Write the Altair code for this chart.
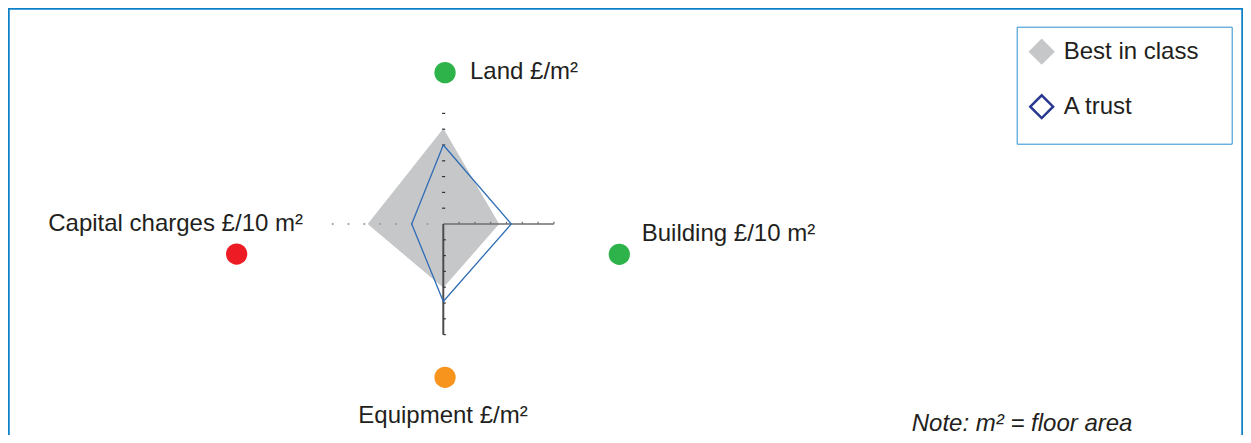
import altair as alt
import pandas as pd

# ---------------- data ----------------
axis_names = ["Land £/m²", "Building £/10 m²", "Equipment £/m²", "Capital charges £/10 m²"]
best_in_class = [6.0, 3.5, 4.0, 4.75]   # Land, Building, Equipment, Capital charges
a_trust = [5.0, 4.3, 4.9, 2.0]
series_names = ["Best in class", "A trust"]
axis_ticks = [1, 2, 3, 4, 5, 6, 7]
marker_colors = ["#2db34a", "#2db34a", "#f7941d", "#ed1c24"]

# ---------------- layout (not data) ----------------
W, H = 1235, 427
K = 15.8                       # pixels per unit
CX, CY = 435.3, 216.0          # radar centre inside the view
XMIN = -CX / K
XMAX = XMIN + W / K
YMAX = CY / K
YMIN = YMAX - H / K
AXIS_MAX = 7

# direction of each spoke: Land up, Building right, Equipment down, Capital left
dirs = [(0, 1), (1, 0), (0, -1), (-1, 0)]
marker_pos = [(0.11, 9.58), (11.14, -1.92), (0.11, -9.70), (-13.08, -1.90)]
label_pos = [(1.69, 9.16), (12.56, -1.08), (-0.02, -12.61), (-8.88, -0.42)]
label_align = ["left", "left", "center", "right"]

FONT = "Liberation Sans"
TEXT_COLOR = "#231f20"
FONT_SIZE = 24
# invisible legend title used only to give the legend box its width and bottom space
LEGEND_SPACER = "0" * 57

xs = alt.Scale(domain=[XMIN, XMAX], nice=False, zero=False)
ys = alt.Scale(domain=[YMIN, YMAX], nice=False, zero=False)


def X(f="x"):
    return alt.X(f"{f}:Q", scale=xs, axis=None)


def Y(f="y"):
    return alt.Y(f"{f}:Q", scale=ys, axis=None)


# ---------------- best in class: filled diamond via area ----------------
L, B, E, C = best_in_class
area_df = pd.DataFrame({
    "x": [-C, 0, B],
    "y": [0, L, 0],
    "y2": [0, -E, 0],
    "series": [series_names[0]] * 3,
})
legend_kw = dict(
    orient="none", legendX=1008.7, legendY=18.7, title=LEGEND_SPACER,
    titleOrient="bottom", titleFontSize=6, titlePadding=3, titleLimit=600,
    titleColor="rgba(255,255,255,0)", titleAnchor="start",
    symbolType="diamond", symbolSize=520, symbolStrokeWidth=2.5,
    labelFontSize=FONT_SIZE, labelFont=FONT, labelColor=TEXT_COLOR,
    labelOffset=9, rowPadding=21, padding=12, labelLimit=400,
    strokeColor="#2b8fd0", fillColor="white",
)
area = alt.Chart(area_df).mark_area(interpolate="linear").encode(
    x=X(), y=Y(), y2="y2:Q",
    fill=alt.Fill("series:N", scale=alt.Scale(domain=series_names, range=["#c6c7c9", "white"]),
                  legend=alt.Legend(**legend_kw)),
    stroke=alt.Stroke("series:N", scale=alt.Scale(domain=series_names, range=["#c6c7c9", "#283891"]),
                      legend=alt.Legend(**legend_kw)),
)

# ---------------- axes ----------------
right_line = alt.Chart(pd.DataFrame({"x": [0], "x2": [AXIS_MAX], "y": [0]})).mark_rule(
    color="#6d6e70", strokeWidth=1.6).encode(x=X(), x2="x2:Q", y=Y())
down_line = alt.Chart(pd.DataFrame({"x": [0], "y": [0], "y2": [-AXIS_MAX]})).mark_rule(
    color="#4d4d4f", strokeWidth=2).encode(x=X(), y=Y(), y2="y2:Q")

tk = pd.DataFrame({"t": axis_ticks})
right_ticks = alt.Chart(tk).transform_calculate(x="datum.t", y="0", y2="0.14").mark_rule(
    color="#6d6e70", strokeWidth=1.2).encode(x=X(), y=Y(), y2="y2:Q")
down_ticks = alt.Chart(tk).transform_calculate(y="-datum.t", x="0", x2="0.16").mark_rule(
    color="#333333", strokeWidth=1.2).encode(y=Y(), x=X(), x2="x2:Q")
up_ticks = alt.Chart(tk).transform_calculate(y="datum.t", x="-0.08", x2="0.12").mark_rule(
    color="#333333", strokeWidth=1.2).encode(y=Y(), x=X(), x2="x2:Q")
left_ticks = alt.Chart(tk).transform_calculate(x="-datum.t", y="-0.06", y2="0.06").mark_rule(
    color="#a0a0a0", strokeWidth=1.8).encode(x=X(), y=Y(), y2="y2:Q")

# ---------------- A trust outline ----------------
pts = []
for i, (v, (dx, dy)) in enumerate(zip(a_trust + [a_trust[0]], dirs + [dirs[0]])):
    pts.append({"x": dx * v, "y": dy * v, "o": i})
trust = alt.Chart(pd.DataFrame(pts)).mark_line(color="#2e6db4", strokeWidth=1.3).encode(
    x=X(), y=Y(), order="o:Q")

# ---------------- category markers and labels ----------------
mk = pd.DataFrame({
    "name": axis_names,
    "x": [p[0] for p in marker_pos],
    "y": [p[1] for p in marker_pos],
    "c": marker_colors,
})
markers = alt.Chart(mk).mark_circle(size=452, opacity=1).encode(
    x=X(), y=Y(), color=alt.Color("c:N", scale=None))

lb = pd.DataFrame({
    "name": axis_names,
    "x": [p[0] for p in label_pos],
    "y": [p[1] for p in label_pos],
    "a": label_align,
})
labels = []
for a in ["left", "center", "right"]:
    labels.append(
        alt.Chart(lb).transform_filter(f"datum.a == '{a}'").mark_text(
            align=a, baseline="alphabetic", font=FONT, fontSize=FONT_SIZE, color=TEXT_COLOR
        ).encode(x=X(), y=Y(), text="name:N")
    )

note = alt.Chart(pd.DataFrame({"t": ["Note: m² = floor area"]})).mark_text(
    align="left", baseline="alphabetic", font=FONT, fontSize=FONT_SIZE, fontStyle="italic",
    color=TEXT_COLOR
).encode(x=alt.value(903.7), y=alt.value(423), text="t:N")

# ---------------- frame (top, left, right) ----------------
FRAME = "#0f80c8"
frame_top = alt.Chart(pd.DataFrame({"a": [0]})).mark_rule(color=FRAME, strokeWidth=2.5).encode(
    x=alt.value(0), x2=alt.value(W), y=alt.value(0.5))
frame_left = alt.Chart(pd.DataFrame({"a": [0]})).mark_rule(color=FRAME, strokeWidth=2.5).encode(
    x=alt.value(0.5), y=alt.value(0), y2=alt.value(H))
frame_right = alt.Chart(pd.DataFrame({"a": [0]})).mark_rule(color=FRAME, strokeWidth=2.5).encode(
    x=alt.value(W - 0.5), y=alt.value(0), y2=alt.value(H))

chart = alt.layer(
    area, right_line, down_line, right_ticks, down_ticks, up_ticks, left_ticks,
    trust, markers, *labels, note, frame_top, frame_left, frame_right
).properties(
    width=W, height=H, padding=0, autosize=alt.AutoSizeParams(type="none"),
    background="white",
).configure_view(stroke=None).configure(font=FONT)

chart.save("out.html", embed_options={"renderer": "svg", "actions": False})
